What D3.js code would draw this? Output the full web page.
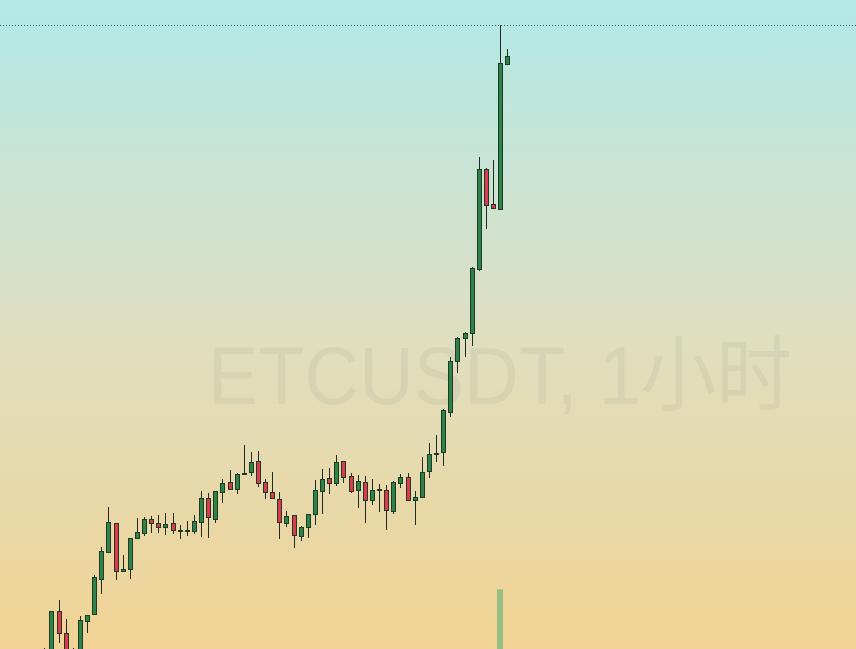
<!DOCTYPE html>
<html>
<head>
<meta charset="utf-8">
<script src="https://cdn.jsdelivr.net/npm/d3@7"></script>
<style>
  html, body { margin: 0; padding: 0; overflow: hidden; }
  svg { display: block; }
</style>
</head>
<body>
<svg id="chart" width="856" height="649"></svg>
<script>
const title = "ETCUSDT, 1小时";
const opens  = [15.985,15.970,16.190,16.079,15.945,15.985,16.142,16.174,16.349,16.485,16.630,16.389,16.399,16.552,16.582,16.650,16.629,16.612,16.629,16.594,16.595,16.592,16.634,16.754,16.652,16.784,16.835,16.802,16.877,16.887,16.940,16.835,16.785,16.749,16.629,16.669,16.564,16.607,16.674,16.789,16.854,16.829,16.939,16.864,16.792,16.834,16.742,16.793,16.794,16.692,16.832,16.859,16.742,16.759,16.889,16.977,16.984,17.187,17.439,17.554,17.579,17.899,18.400,18.225,18.202,18.925];
const highs  = [16.005,16.190,16.245,16.150,16.004,16.165,16.170,16.370,16.510,16.710,16.630,16.470,16.555,16.655,16.662,16.665,16.670,16.681,16.680,16.620,16.640,16.670,16.790,16.779,16.792,16.850,16.895,16.882,17.020,16.984,16.990,16.852,16.887,16.787,16.690,16.670,16.615,16.675,16.845,16.900,16.904,16.970,16.942,16.879,16.870,16.865,16.850,16.825,16.820,16.840,16.875,16.879,16.789,16.959,17.032,17.070,17.199,17.462,17.559,17.587,17.909,18.462,18.404,18.445,19.120,19.000];
const lows   = [15.920,15.945,16.032,15.935,15.920,15.965,16.082,16.174,16.277,16.482,16.344,16.389,16.352,16.549,16.563,16.579,16.578,16.572,16.574,16.552,16.565,16.577,16.562,16.557,16.629,16.729,16.795,16.774,16.872,16.865,16.812,16.752,16.753,16.549,16.609,16.507,16.542,16.557,16.620,16.674,16.777,16.815,16.829,16.782,16.707,16.629,16.719,16.687,16.595,16.675,16.807,16.743,16.620,16.758,16.857,16.934,16.917,17.159,17.379,17.459,17.517,17.892,18.099,18.203,18.202,18.920];
const closes = [15.945,16.190,16.082,15.970,15.985,16.145,16.170,16.360,16.490,16.635,16.389,16.399,16.555,16.584,16.650,16.632,16.608,16.625,16.592,16.595,16.597,16.640,16.754,16.657,16.790,16.830,16.799,16.877,16.882,16.935,16.829,16.784,16.754,16.634,16.664,16.569,16.609,16.674,16.794,16.849,16.829,16.934,16.859,16.787,16.839,16.742,16.794,16.798,16.692,16.835,16.860,16.744,16.759,16.885,16.975,16.980,17.195,17.440,17.554,17.580,17.905,18.399,18.219,18.204,18.930,18.965];
const volumes = [9000,14000,12000,11000,8000,10000,7000,16000,18000,24000,21000,9000,15000,8000,7000,6000,6500,6000,7000,5000,5000,7000,14000,12000,13000,10000,9000,8000,11000,9000,12000,10000,8000,16000,9000,14000,8000,9000,15000,13000,9000,12000,10000,9000,9000,12000,8000,7000,11000,13000,8000,10000,9000,16000,15000,12000,26000,32000,22000,15000,38000,50000,42000,30000,85350,20000];

const W = 856, H = 649;
const svg = d3.select("#chart");

// background gradient
const defs = svg.append("defs");
const grad = defs.append("linearGradient").attr("id", "bg").attr("x1", 0).attr("y1", 0).attr("x2", 0).attr("y2", 1);
grad.append("stop").attr("offset", "0%").attr("stop-color", "#b2e9e7");
grad.append("stop").attr("offset", "50%").attr("stop-color", "#dedfc2");
grad.append("stop").attr("offset", "100%").attr("stop-color", "#f1d394");
svg.append("rect").attr("width", W).attr("height", H).attr("fill", "url(#bg)");

// watermark
svg.append("text")
  .attr("x", 500).attr("y", 404)
  .attr("text-anchor", "middle")
  .attr("font-family", "'Liberation Sans', 'Noto Sans CJK SC', sans-serif")
  .attr("font-size", 82)
  .attr("textLength", 584)
  .attr("lengthAdjust", "spacingAndGlyphs")
  .attr("fill", "rgba(110,110,110,0.09)")
  .text(title);

const idx = d3.range(opens.length);
const x = d3.scaleLinear().domain([0, opens.length - 1]).range([44.3, 507.3]);
const y = d3.scaleLinear().domain([16, 19.12]).range([649, 25]);
const yv = d3.scaleLinear().domain([0, 100000]).range([760, 560]);

// volume bars
svg.append("g").selectAll("rect").data(idx).join("rect")
  .attr("x", i => Math.round(x(i)) - 3)
  .attr("width", 6)
  .attr("y", i => yv(volumes[i]))
  .attr("height", i => yv(0) - yv(volumes[i]))
  .attr("fill", "rgba(60,170,110,0.5)");

// highest price dotted line
const maxHigh = d3.max(highs);
svg.append("line")
  .attr("x1", 0).attr("x2", W)
  .attr("y1", Math.round(y(maxHigh)) + 0.5).attr("y2", Math.round(y(maxHigh)) + 0.5)
  .attr("stroke", "#2f6060").attr("stroke-width", 1)
  .attr("stroke-dasharray", "1,2");

const gC = svg.append("g").attr("shape-rendering", "crispEdges");
const up = i => closes[i] >= opens[i];

// wicks
gC.selectAll("line.wick").data(idx).join("line")
  .attr("class", "wick")
  .attr("x1", i => Math.round(x(i)) + 0.5)
  .attr("x2", i => Math.round(x(i)) + 0.5)
  .attr("y1", i => y(highs[i]))
  .attr("y2", i => y(lows[i]))
  .attr("stroke", "#1e2b24").attr("stroke-width", 1);

// bodies
gC.selectAll("rect.body").data(idx).join("rect")
  .attr("class", "body")
  .attr("x", i => Math.round(x(i)) - 2 + 0.5)
  .attr("width", 4)
  .attr("y", i => Math.round(y(Math.max(opens[i], closes[i]))) + 0.5)
  .attr("height", i => Math.max(1, Math.round(Math.abs(y(opens[i]) - y(closes[i])))))
  .attr("fill", i => up(i) ? "#2e8348" : "#e0384e")
  .attr("stroke", "#1d3a27").attr("stroke-width", 1);
</script>
</body>
</html>
